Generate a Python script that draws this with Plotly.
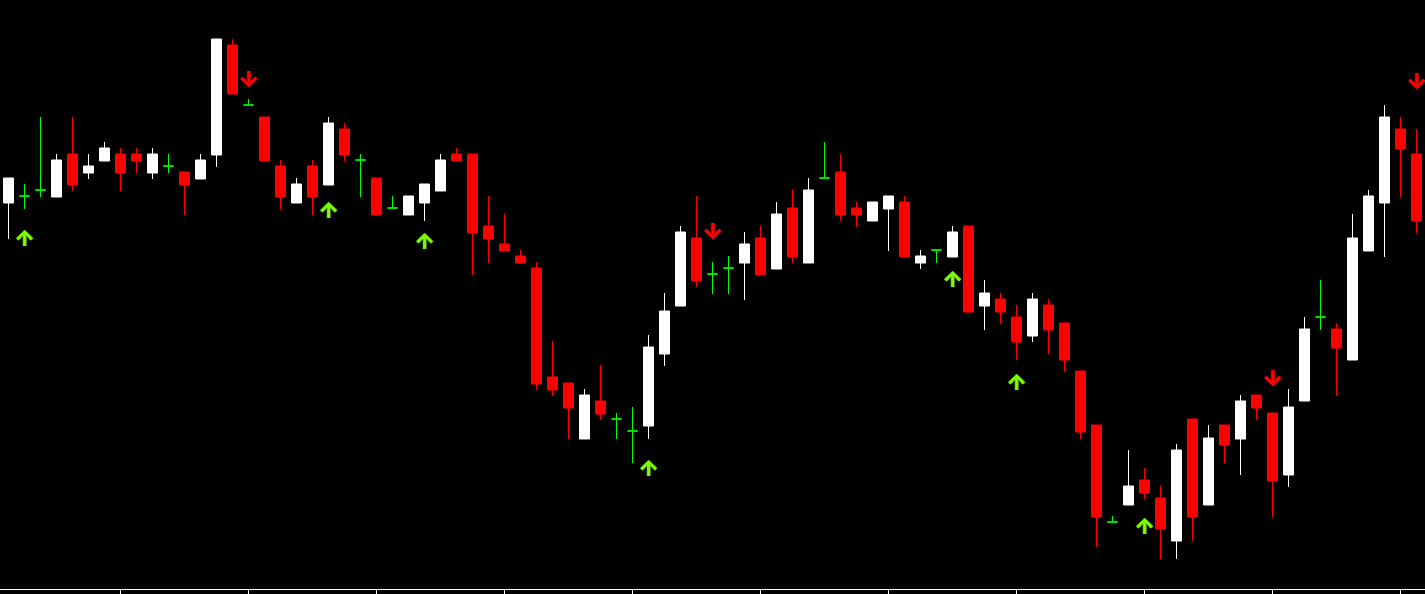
import plotly.graph_objects as go

# Bar index (one candle per period)
bars = list(range(89))

open_ = [1397, 1404, 1410, 1403, 1446, 1427, 1439, 1446, 1446, 1427,
         1434, 1428, 1421, 1445, 1555, 1495, 1483, 1434, 1397, 1434,
         1415, 1471, 1440, 1422, 1392, 1385, 1397, 1409, 1446, 1446,
         1374, 1356, 1344, 1332, 1223, 1217, 1161, 1199, 1181, 1169,
         1174, 1246, 1294, 1362, 1326, 1332, 1337, 1362, 1331, 1392,
         1337, 1422, 1428, 1392, 1379, 1391, 1398, 1337, 1350, 1343,
         1374, 1294, 1301, 1283, 1264, 1295, 1277, 1229, 1175, 1078,
         1095, 1120, 1102, 1059, 1181, 1095, 1175, 1161, 1205, 1187,
         1125, 1199, 1283, 1271, 1240, 1349, 1397, 1471, 1446]
high = [1422, 1416, 1483, 1446, 1483, 1446, 1458, 1452, 1452, 1452,
        1446, 1428, 1446, 1561, 1561, 1501, 1483, 1440, 1422, 1440,
        1483, 1477, 1446, 1422, 1404, 1404, 1416, 1446, 1452, 1446,
        1404, 1386, 1350, 1338, 1259, 1217, 1211, 1235, 1187, 1193,
        1265, 1307, 1374, 1404, 1338, 1344, 1368, 1374, 1398, 1410,
        1422, 1458, 1446, 1398, 1398, 1404, 1404, 1350, 1350, 1374,
        1374, 1320, 1307, 1295, 1307, 1301, 1277, 1229, 1175, 1084,
        1150, 1132, 1114, 1156, 1181, 1175, 1175, 1205, 1205, 1187,
        1211, 1283, 1320, 1277, 1386, 1410, 1495, 1483, 1471]
low = [1361, 1391, 1403, 1403, 1409, 1421, 1439, 1409, 1427, 1421,
       1427, 1385, 1421, 1433, 1506, 1495, 1439, 1391, 1397, 1385,
       1415, 1439, 1403, 1385, 1392, 1385, 1379, 1409, 1439, 1325,
       1337, 1349, 1337, 1210, 1204, 1161, 1161, 1180, 1161, 1137,
       1161, 1234, 1294, 1313, 1306, 1306, 1300, 1325, 1331, 1337,
       1337, 1422, 1379, 1373, 1379, 1349, 1343, 1331, 1337, 1343,
       1288, 1270, 1276, 1240, 1258, 1246, 1228, 1161, 1053, 1078,
       1095, 1101, 1041, 1041, 1059, 1095, 1137, 1125, 1180, 1083,
       1113, 1199, 1270, 1204, 1240, 1349, 1343, 1403, 1367]
close = [1422, 1404, 1410, 1440, 1415, 1434, 1452, 1427, 1439, 1446,
         1434, 1415, 1440, 1561, 1506, 1495, 1439, 1403, 1416, 1403,
         1477, 1445, 1440, 1385, 1392, 1404, 1416, 1440, 1439, 1367,
         1361, 1349, 1337, 1216, 1210, 1192, 1205, 1186, 1181, 1169,
         1253, 1289, 1368, 1319, 1326, 1332, 1356, 1325, 1386, 1343,
         1410, 1422, 1385, 1385, 1398, 1404, 1343, 1344, 1350, 1368,
         1288, 1307, 1288, 1258, 1301, 1270, 1240, 1168, 1083, 1078,
         1114, 1107, 1071, 1150, 1083, 1162, 1155, 1199, 1192, 1119,
         1193, 1271, 1283, 1252, 1362, 1404, 1483, 1451, 1379]

# Signal arrows
buy_bars = [1, 20, 26, 40, 59, 63, 71]
buy_levels = [1360, 1388, 1357, 1130, 1319, 1216, 1072]
sell_bars = [15, 44, 79, 88]
sell_levels = [1519, 1367, 1220, 1517]

tick_bars = list(range(7, 89, 8))

BULL = "#ffffff"
BEAR = "#ff0000"
DOJI = "#00ff00"
BUY = "#7cfc00"
SELL = "#ff0000"


def subset(cond):
    idx = [i for i in bars if cond(open_[i], close[i])]
    return (idx, [open_[i] for i in idx], [high[i] for i in idx],
            [low[i] for i in idx], [close[i] for i in idx])


fig = go.Figure()
for cond, col in [(lambda o, c: c > o, BULL),
                  (lambda o, c: c < o, BEAR),
                  (lambda o, c: c == o, DOJI)]:
    x, o, h, l, c = subset(cond)
    fig.add_trace(go.Candlestick(
        x=x, open=o, high=h, low=l, close=c,
        increasing=dict(line=dict(color=col, width=1), fillcolor=col),
        decreasing=dict(line=dict(color=col, width=1), fillcolor=col),
        whiskerwidth=0, hoverinfo="skip", showlegend=False,
    ))

fig.add_trace(go.Scatter(
    x=buy_bars, y=buy_levels, mode="text", text=["↑"] * len(buy_bars),
    textposition="middle center",
    textfont=dict(family="Inter", size=22, color=BUY, weight=900,
                  shadow="0px 0px 1px #2f6a00"),
    hoverinfo="skip", showlegend=False,
))
fig.add_trace(go.Scatter(
    x=sell_bars, y=sell_levels, mode="text", text=["↓"] * len(sell_bars),
    textposition="middle center",
    textfont=dict(family="Inter", size=22, color=SELL, weight=900,
                  shadow="0px 0px 1px #7a0000"),
    hoverinfo="skip", showlegend=False,
))

fig.update_layout(
    width=1425, height=594,
    margin=dict(l=0, r=0, t=0, b=5, pad=0),
    paper_bgcolor="#000000", plot_bgcolor="#000000",
    boxgap=0.375, boxgroupgap=0,
    hovermode=False,
    xaxis=dict(
        range=[-0.53125, 88.53125], rangeslider=dict(visible=False),
        showgrid=False, zeroline=False, showline=True, linecolor="#ffffff",
        linewidth=1, ticks="outside", ticklen=4, tickcolor="#ffffff",
        tickwidth=1, tickvals=tick_bars, showticklabels=False,
        fixedrange=True,
    ),
    yaxis=dict(
        range=[1011, 1600], showgrid=False, zeroline=False, showline=False,
        showticklabels=False, ticks="", fixedrange=True,
    ),
)

fig.write_html(
    "out.html",
    config={"displayModeBar": False, "staticPlot": True},
    post_script="document.body.style.margin='0';document.body.style.overflow='hidden';",
)
